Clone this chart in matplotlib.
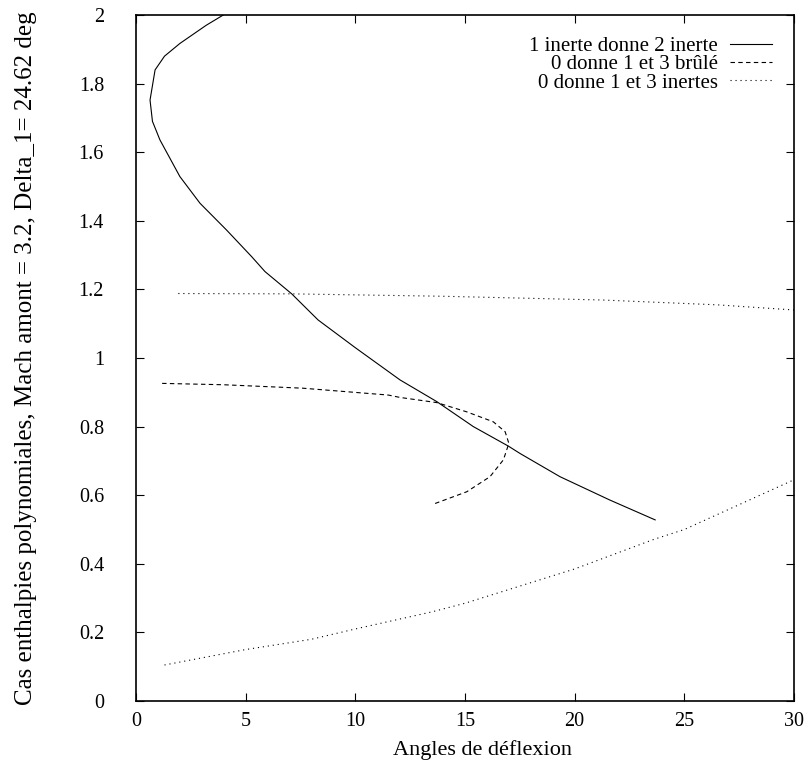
import numpy as np
import matplotlib.pyplot as plt

plt.rcParams['font.family'] = ['Liberation Serif', 'DejaVu Serif']

# 1 inerte donne 2 inerte
solid_x = [3.98, 3.2, 2.0, 1.3, 0.87, 0.64, 0.75, 1.09, 2.0, 2.92, 4.13, 5.28,
           5.88, 7.1, 8.3, 10.0, 12.04, 13.71, 15.38, 16.98, 17.5, 19.33, 21.6, 23.67]
solid_y = [2.0, 1.97, 1.917, 1.88, 1.84, 1.752, 1.69, 1.636, 1.529, 1.451, 1.373,
           1.295, 1.252, 1.187, 1.111, 1.03, 0.936, 0.873, 0.80, 0.743, 0.722,
           0.654, 0.586, 0.528]

# 0 donne 1 et 3 brule
dash_x = [1.19, 4.0, 7.6, 11.5, 12.04, 13.71, 15.08, 16.29, 16.83, 17.0, 16.75,
          16.14, 15.08, 13.56]
dash_y = [0.926, 0.922, 0.912, 0.892, 0.885, 0.87, 0.843, 0.814, 0.785, 0.751,
          0.703, 0.654, 0.610, 0.574]

# 0 donne 1 et 3 inertes (two branches)
dot_hi_x = [1.93, 7.1, 14.0, 21.3, 26.5, 30.0]
dot_hi_y = [1.188, 1.187, 1.18, 1.169, 1.155, 1.14]
dot_lo_x = [1.3, 5.0, 8.0, 10.0, 13.5, 15.0, 20.0, 23.6, 25.0, 30.0]
dot_lo_y = [0.105, 0.15, 0.18, 0.21, 0.26, 0.285, 0.385, 0.471, 0.50, 0.645]

y_ticklabels = ['0', '0.2', '0.4', '0.6', '0.8', '1', '1.2', '1.4', '1.6', '1.8', '2']

fig = plt.figure(figsize=(8.08, 7.64), dpi=100)
ax = fig.add_axes([136 / 808, 63 / 764, 658 / 808, 686 / 764])

ax.plot(solid_x, solid_y, color='black', lw=0.8, label='1 inerte donne 2 inerte')
ax.plot(dash_x, dash_y, color='black', lw=0.8, dashes=(4, 3),
        label='0 donne 1 et 3 brûlé')
ax.plot(dot_hi_x, dot_hi_y, color='black', lw=0.8, dashes=(1, 3.5),
        label='0 donne 1 et 3 inertes')
ax.plot(dot_lo_x, dot_lo_y, color='black', lw=0.8, dashes=(1, 3.5))

ax.set_xlim(0, 30)
ax.set_ylim(0, 2)
ax.set_xticks(np.arange(0, 31, 5))
ax.set_yticks(np.arange(0, 2.01, 0.2))
ax.set_yticklabels(y_ticklabels)
ax.tick_params(direction='in', top=True, right=True, labelsize=14.5, length=6)
ax.tick_params(axis='x', pad=8)
ax.tick_params(axis='y', pad=23)
for s in ax.spines.values():
    s.set_linewidth(1.2)

ax.set_xlabel('Angles de déflexion', fontsize=16)
ax.xaxis.set_label_coords(0.526, -0.057)
ax.set_ylabel('Cas enthalpies polynomiales, Mach amont = 3.2, Delta_1= 24.62 deg',
              fontsize=18)
ax.yaxis.set_label_coords(-0.150, 0.5)

ax.legend(loc='upper right', bbox_to_anchor=(0.9726, 0.975), frameon=False,
          fontsize=15, markerfirst=False, handlelength=2.0, labelspacing=-0.06,
          borderaxespad=0, borderpad=0.2, handletextpad=0.6)

fig.savefig('out.png', dpi=100)
